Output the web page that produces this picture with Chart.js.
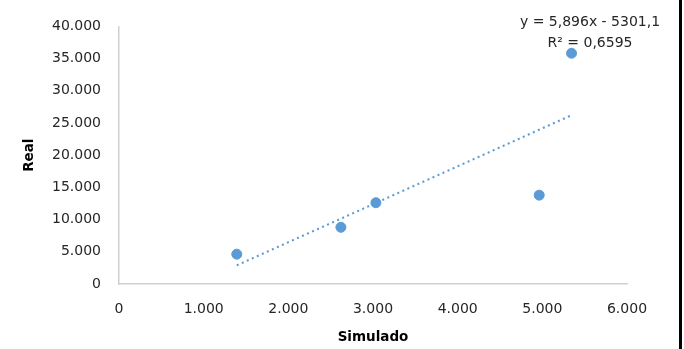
<!DOCTYPE html>
<html>
<head>
<meta charset="utf-8">
<script src="https://cdn.jsdelivr.net/npm/chart.js@4.4.1/dist/chart.umd.min.js"></script>
<style>
  html, body { margin: 0; padding: 0; background: #ffffff; }
  #wrap { width: 684px; height: 349px; position: relative; }
</style>
</head>
<body>
<div id="wrap"><canvas id="c" width="684" height="349"></canvas></div>
<script>
// Simulated vs. real values
const simulado = [1391, 2621, 3034, 4963, 5345];
const real = [4633, 8803, 12618, 13797, 35830];

// Linear trend: real = slope * simulado + intercept
const trendSlope = 5.896;
const trendIntercept = -5301.1;
const trendLabels = ['y = 5,896x - 5301,1', 'R\u00B2 = 0,6595'];

const xTicks = [0, 1000, 2000, 3000, 4000, 5000, 6000];
const yTicks = [0, 5000, 10000, 15000, 20000, 25000, 30000, 35000, 40000];

const xTitle = 'Simulado';
const yTitle = 'Real';

const BLUE = '#5b9bd5';
const TEXT = '#262626';
const TITLE = '#000000';

function fmt(v) {
  return String(v).replace(/\B(?=(\d{3})+(?!\d))/g, '.');
}

const xMin = Math.min(...simulado);
const xMax = Math.max(...simulado);
const trendPoints = [xMin, xMax].map(x => ({ x: x, y: trendSlope * x + trendIntercept }));
const points = simulado.map((x, i) => ({ x: x, y: real[i] }));

// Equation box text and the frame line at the right edge
const extras = {
  id: 'extras',
  afterDraw(chart) {
    const ctx = chart.ctx;
    ctx.save();
    ctx.fillStyle = TEXT;
    ctx.font = '14px "DejaVu Sans"';
    ctx.textAlign = 'center';
    ctx.textBaseline = 'middle';
    ctx.fillText(trendLabels[0], 590, 22);
    ctx.fillText(trendLabels[1], 590, 43);
    ctx.fillStyle = '#000000';
    ctx.fillRect(679, 0, 3, chart.height);
    ctx.restore();
  }
};

new Chart(document.getElementById('c'), {
  type: 'scatter',
  data: {
    datasets: [
      {
        type: 'line',
        data: trendPoints,
        borderColor: BLUE,
        borderWidth: 2,
        borderDash: [2, 3.5],
        pointRadius: 0,
        fill: false,
        order: 2
      },
      {
        data: points,
        backgroundColor: BLUE,
        borderColor: BLUE,
        pointRadius: 5,
        pointHoverRadius: 5,
        order: 1
      }
    ]
  },
  options: {
    responsive: false,
    animation: false,
    events: [],
    layout: { padding: { left: 0, right: 57, top: 25, bottom: 0 } },
    plugins: { legend: { display: false }, tooltip: { enabled: false } },
    scales: {
      x: {
        type: 'linear',
        min: 0,
        max: 6000,
        afterBuildTicks(s) { s.ticks = xTicks.map(v => ({ value: v })); },
        afterFit(s) { s.height = 65; },
        grid: { display: false, drawTicks: false },
        border: { display: true, color: '#d0d0d0', width: 1.5 },
        ticks: {
          padding: 17,
          color: TEXT,
          font: { family: 'DejaVu Sans', size: 14 },
          maxRotation: 0,
          callback: v => fmt(v)
        },
        title: {
          display: true,
          text: xTitle,
          color: TITLE,
          font: { family: 'DejaVu Sans', size: 13.5, weight: 'bold' },
          padding: { top: 0, bottom: 3 }
        }
      },
      y: {
        type: 'linear',
        min: 0,
        max: 40000,
        afterBuildTicks(s) { s.ticks = yTicks.map(v => ({ value: v })); },
        afterFit(s) { s.width = 119; },
        grid: { display: false, drawTicks: false },
        border: { display: true, color: '#d0d0d0', width: 1.5 },
        ticks: {
          padding: 18,
          color: TEXT,
          font: { family: 'DejaVu Sans', size: 14 },
          callback: v => fmt(v)
        },
        title: {
          display: true,
          text: yTitle,
          color: TITLE,
          font: { family: 'DejaVu Sans', size: 13.5, weight: 'bold' },
          padding: { top: 21, bottom: 0 }
        }
      }
    }
  },
  plugins: [extras]
});
</script>
</body>
</html>
